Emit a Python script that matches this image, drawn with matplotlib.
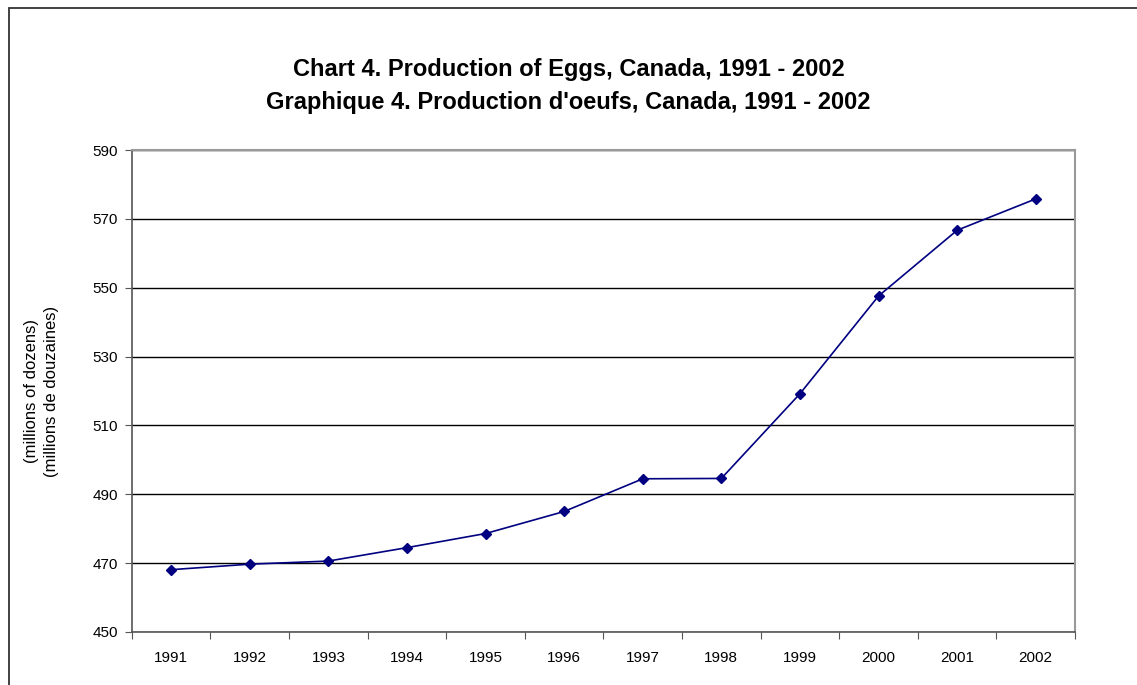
import matplotlib.pyplot as plt
from matplotlib.patches import Rectangle
import numpy as np

# Production of eggs, millions of dozens
years = ['1991', '1992', '1993', '1994', '1995', '1996',
         '1997', '1998', '1999', '2000', '2001', '2002']
production = [468.1, 469.7, 470.6, 474.5, 478.6, 485.0,
              494.5, 494.6, 519.2, 547.6, 566.7, 575.8]
yticks = [450, 470, 490, 510, 530, 550, 570, 590]

plt.rcParams['font.family'] = ['Liberation Sans', 'DejaVu Sans']

fig = plt.figure(figsize=(11.37, 6.85), dpi=100)
ax = fig.add_axes([0.116, 0.0774, 0.8295, 0.7036])

x = np.arange(1, len(years) + 1)
ax.plot(x, production, color='#000080', linewidth=1.2, marker='D',
        markersize=5, zorder=3)

ax.set_ylim(450, 590)
ax.set_yticks(yticks)
ax.grid(axis='y', color='black', linewidth=1)
ax.set_axisbelow(True)

# categories sit between tick marks, like the original spreadsheet chart
ax.set_xlim(0.5, len(years) + 0.5)
ax.set_xticks(np.arange(0.5, len(years) + 1, 1))
ax.set_xticklabels([])
ax.set_xticks(x, minor=True)
ax.set_xticklabels(years, minor=True)
ax.tick_params(axis='x', which='minor', length=0, pad=14, labelsize=11)
ax.tick_params(axis='x', which='major', length=5, direction='out', color='#555555')
ax.tick_params(axis='y', length=5, direction='out', labelsize=11, pad=5,
               color='#555555')

for s in ['top', 'right']:
    ax.spines[s].set_color('#999999')
    ax.spines[s].set_linewidth(1.5)
for s in ['left', 'bottom']:
    ax.spines[s].set_color('#555555')
    ax.spines[s].set_linewidth(1.2)

ax.set_ylabel('(millions of dozens)\n(millions de douzaines)', fontsize=12,
              labelpad=24, linespacing=1.45)

fig.text(0.5, 0.898, 'Chart 4. Production of Eggs, Canada, 1991 - 2002',
         ha='center', va='center', fontsize=17, fontweight='bold')
fig.text(0.5, 0.851, "Graphique 4. Production d'oeufs, Canada, 1991 - 2002",
         ha='center', va='center', fontsize=17, fontweight='bold')

# outer frame (only left/top edges visible in the original)
fig.patches.append(Rectangle((8.5 / 1137, -0.1), 1.2, 1.1 - 8.5 / 685,
                             transform=fig.transFigure, fill=False,
                             edgecolor='#333333', linewidth=1.3))

plt.savefig('out.png', dpi=100)
plt.close()
